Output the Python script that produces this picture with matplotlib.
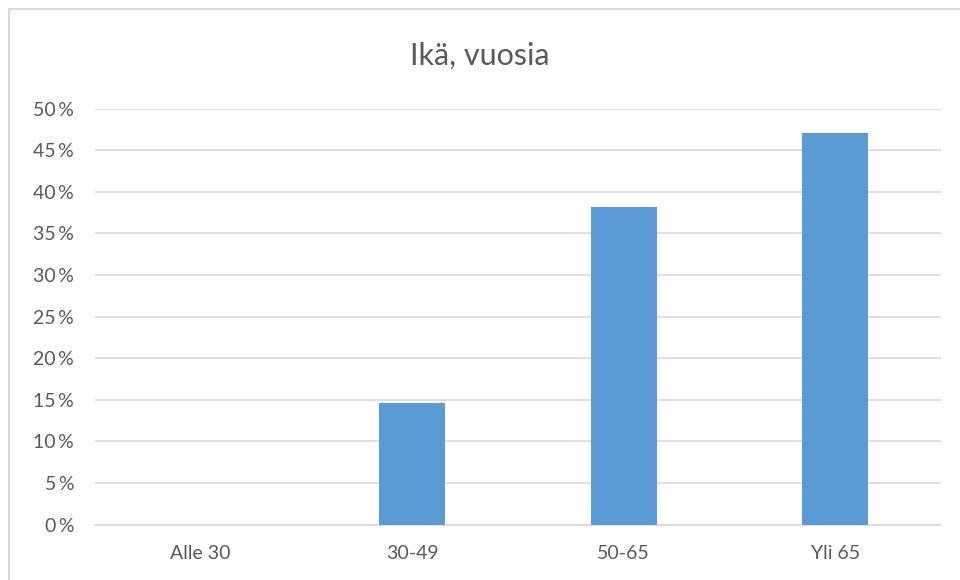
import matplotlib
matplotlib.use("Agg")
import matplotlib.pyplot as plt
from matplotlib.lines import Line2D
from matplotlib.ticker import FuncFormatter

categories = ["Alle 30", "30-49", "50-65", "Yli 65"]
values = [0.0, 14.6, 38.2, 47.0]
yticks = [0, 5, 10, 15, 20, 25, 30, 35, 40, 45, 50]
title = "Ikä, vuosia"

plt.rcParams['font.family'] = ['Lato', 'DejaVu Sans']

fig = plt.figure(figsize=(9.6, 5.8), dpi=100)
# top and left frame of the (cropped) chart area
fig.lines.append(Line2D([9/960, 1.0], [1 - 9/580, 1 - 9/580], transform=fig.transFigure,
                        color="#D9D9D9", linewidth=1.5))
fig.lines.append(Line2D([9/960, 9/960], [0.0, 1 - 9/580], transform=fig.transFigure,
                        color="#D9D9D9", linewidth=1.5))
ax = fig.add_axes([95/960, 1 - 524.5/580, 846/960, 416/580])
x = range(len(categories))
ax.bar(x, values, width=0.31, color="#5B9BD5", zorder=3)
ax.set_xlim(-0.5, len(categories) - 0.5)
ax.set_ylim(0, 50)
ax.set_yticks(yticks)
ax.yaxis.set_major_formatter(FuncFormatter(lambda v, p: f"{int(v)}\u2009%"))
ax.set_xticks(list(x))
ax.set_xticklabels(categories)
ax.grid(axis="y", color="#D9D9D9", linewidth=1.2, zorder=0)
for s in ["top", "right", "left"]:
    ax.spines[s].set_visible(False)
ax.spines["bottom"].set_color("#D9D9D9")
ax.spines["bottom"].set_linewidth(1.2)
ax.tick_params(axis="both", length=0, colors="#595959", labelsize=14)
ax.tick_params(axis="y", pad=15)
ax.tick_params(axis="x", pad=15)
fig.text(0.5, 1 - 56/580, title, ha="center", va="center", fontsize=22, color="#595959")
fig.savefig("out.png", dpi=100)
